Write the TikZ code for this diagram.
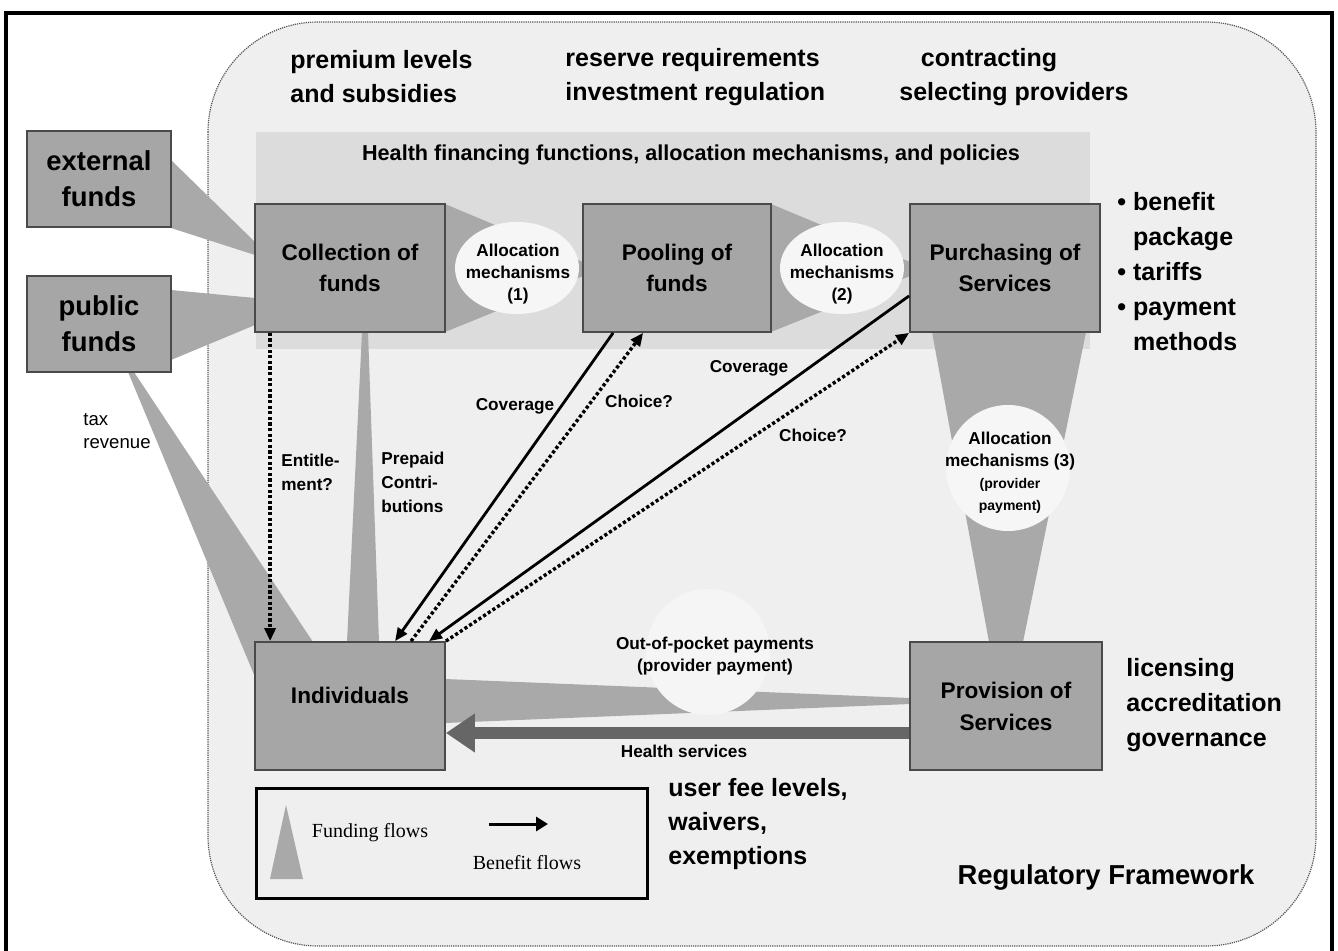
\documentclass[tikz,border=0pt]{standalone}
\usepackage{fontspec}
\setmainfont{Liberation Sans}
\newfontfamily\serifleg{Liberation Serif}
\usetikzlibrary{shapes.geometric,arrows.meta}
\definecolor{boxfill}{HTML}{A6A6A6}
\definecolor{boxline}{HTML}{4A4A4A}
\definecolor{wedgefill}{HTML}{A9A9A9}
\definecolor{regionfill}{HTML}{EFEFEF}
\definecolor{regionline}{HTML}{555555}
\definecolor{bandfill}{HTML}{DCDCDC}
\definecolor{ellfill}{HTML}{F6F6F6}
\definecolor{oopfill}{HTML}{F5F5F5}
\definecolor{hsgray}{HTML}{666666}
\newcommand\fsz[2]{\fontsize{#1}{#2}\selectfont\bfseries}
\newcommand\fszr[2]{\fontsize{#1}{#2}\selectfont}
\begin{document}
\begin{tikzpicture}[x=0.5pt,y=-0.5pt,
  box/.style={draw=boxline, fill=boxfill, line width=0.9pt, inner sep=0pt, align=center},
  wedge/.style={fill=wedgefill, draw=none},
  alloc/.style={ellipse, fill=ellfill, draw=none, inner sep=0pt},
  txt/.style={inner sep=0pt, align=left},
  small/.style={inner sep=0pt, align=center, font=\fsz{8.6}{11}},
  benef/.style={line width=1.4pt, -{Triangle[length=6.5pt,width=5.5pt]}},
  dotline/.style={line width=1.7pt, dash pattern=on 1.6pt off 1.2pt},
  hsarrow/.style={line width=6pt, draw=hsgray, -{Triangle[length=14.5pt,width=18.5pt]}}
]
\useasboundingbox (0,0) rectangle (1338,951);
% outer frame
\draw[line width=1.6pt] (6,951) -- (6,13) -- (1332,13) -- (1332,951);
% regulatory framework region
\draw[draw=regionline, fill=regionfill, line width=0.6pt, dash pattern=on 0.6pt off 0.5pt, rounded corners=55pt] (208,22) rectangle (1316,946);
% band
\node[fill=bandfill, minimum width=417pt, minimum height=108.5pt, inner sep=0pt, anchor=north west] (band) at (256,132) {};
\node[inner sep=0pt, font=\fsz{10.8}{13}] (bandtitle) at (691,155) {Health financing functions, allocation mechanisms, and policies};

% funding flows (wedges)
\fill[wedge] (171,160) -- (255,242) -- (255,255) -- (171,228) -- cycle;
\fill[wedge] (171,290) -- (255,298) -- (255,325) -- (171,360) -- cycle;
\fill[wedge] (128,372) -- (134,372) -- (313,642) -- (255,642) -- (255,677) -- cycle;
\fill[wedge] (362,332) -- (368,332) -- (379,642) -- (347,642) -- cycle;
\fill[wedge] (445,204) -- (583,262) -- (583,276) -- (445,332) -- cycle;
\fill[wedge] (771,204) -- (910,262) -- (910,276) -- (771,332) -- cycle;
\fill[wedge] (932,332) -- (1086,332) -- (1023,642) -- (989,642) -- cycle;
\fill[wedge] (445,679) -- (910,698) -- (910,704) -- (445,723) -- cycle;

% allocation ellipses
\node[alloc, minimum width=62pt, minimum height=46pt] (a1) at (517,268) {};
\node[small] (a1text) at (518,274) {Allocation\\mechanisms\\(1)};
\node[alloc, minimum width=62pt, minimum height=46pt] (a2) at (842,268) {};
\node[small] (a2text) at (842,274) {Allocation\\mechanisms\\(2)};
\node[alloc, minimum width=62pt, minimum height=63pt] (a3) at (1008,468) {};
\node[small] (a3text) at (1010,473) {Allocation\\mechanisms (3)\\\fsz{7}{10.5}(provider\\\fsz{7}{10.5}payment)};
\node[ellipse, fill=oopfill, minimum width=62pt, minimum height=63pt, inner sep=0pt] (oop) at (708,652) {};
\node[small] (ooptext) at (715,656) {Out-of-pocket payments\\(provider payment)};

% boxes
\node[box, minimum width=72pt, minimum height=48pt, font=\fsz{13.7}{18}] (ext) at (99,179) {external\\funds};
\node[box, minimum width=72pt, minimum height=48pt, font=\fsz{13.7}{18}] (pub) at (99,324) {public\\funds};
\node[box, minimum width=95pt, minimum height=64pt, font=\fsz{11.3}{15.5}] (coll) at (350,268) {Collection of\\funds};
\node[box, minimum width=94pt, minimum height=64pt, font=\fsz{11.3}{15.5}] (pool) at (677,268) {Pooling of\\funds};
\node[box, minimum width=95pt, minimum height=64pt, font=\fsz{11.3}{15.5}] (purch) at (1005,268) {Purchasing of\\Services};
\node[box, minimum width=95pt, minimum height=64pt] (indiv) at (350,706) {};
\node[inner sep=0pt, font=\fsz{11.3}{15.5}] (indivtxt) at (350,695) {Individuals};
\node[box, minimum width=96pt, minimum height=64pt, font=\fsz{11.3}{16}] (prov) at (1006,706) {Provision of\\Services};

% health services
\draw[hsarrow] ([yshift=-13.5pt]prov.west) -- ([yshift=-13.5pt]indiv.east);
\node[small] (hstext) at (684,751) {Health services};

% benefit flows
\draw[benef, dotline] ([xshift=8pt]coll.south west) -- ([xshift=8pt]indiv.north west);
\draw[benef] ([xshift=15.5pt]pool.south west) -- ([xshift=70.5pt]indiv.north west);
\draw[benef, dotline] ([xshift=78.5pt]indiv.north west) -- ([xshift=30.5pt]pool.south west);
\draw[benef] ([yshift=18.5pt]purch.south west) -- ([xshift=87.5pt]indiv.north west);
\draw[benef, dotline] (indiv.north east) -- (purch.south west);

% flow labels
\node[small] (cov1) at (515,406) {Coverage};
\node[small] (cho1) at (639,401) {Choice?};
\node[small] (cov2) at (749,368) {Coverage};
\node[small] (cho2) at (813,435) {Choice?};
\node[txt, anchor=west, font=\fsz{8.6}{12}] (ent) at (281,472) {Entitle-\\ment?};
\node[txt, anchor=west, font=\fsz{8.6}{12}] (prep) at (381,482) {Prepaid\\Contri-\\butions};
\node[txt, anchor=west, font=\fszr{9.3}{11.5}] (tax) at (83,431) {tax\\revenue};

% policy texts
\node[txt, anchor=west, font=\fsz{12.5}{17}] (prem) at (290,77) {premium levels\\and subsidies};
\node[txt, anchor=west, font=\fsz{12.5}{17}] (res) at (565,77) {reserve requirements\\investment regulation};
\node[inner sep=0pt, align=center, font=\fsz{12.5}{17}] (contr) at (1014,77) {contracting\hspace*{25pt}\\selecting providers};
\node[txt, anchor=west, font=\fsz{12.5}{17.5}] (bul) at (1117,272) {• benefit\\\phantom{• }package\\• tariffs\\• payment\\\phantom{• }methods};
\node[txt, anchor=west, font=\fsz{12.5}{17.5}] (lic) at (1126,705) {licensing\\accreditation\\governance};
\node[txt, anchor=west, font=\fsz{12.5}{17}] (fee) at (668,824) {user fee levels,\\waivers,\\exemptions};
\node[inner sep=0pt, font=\fsz{13.7}{16}] (reg) at (1106,877) {Regulatory Framework};

% legend
\node[draw, line width=1.5pt, minimum width=195.5pt, minimum height=55pt, inner sep=0pt, anchor=north west] (legend) at (255,787) {};
\fill[wedge] (286,805) -- (303,879) -- (270,879) -- cycle;
\node[inner sep=0pt, font=\serifleg\fontsize{10}{12}\selectfont] (ff) at (370,833) {Funding flows};
\coordinate (la1) at (489,824);
\coordinate (la2) at (548,824);
\draw[line width=1.5pt, -{Triangle[length=6pt,width=7pt]}] (la1) -- (la2);
\node[inner sep=0pt, font=\serifleg\fontsize{10}{12}\selectfont] (bf) at (527,863) {Benefit flows};
\end{tikzpicture}
\end{document}
